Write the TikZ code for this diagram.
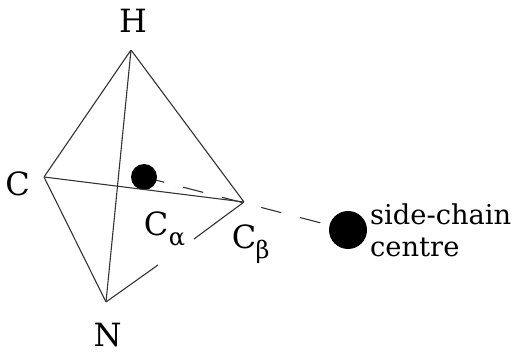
\documentclass[tikz,border=0pt]{standalone}
\usepackage{fontspec}
\setmainfont{DejaVu Serif}
\usetikzlibrary{positioning}
\tikzset{
  vertex/.style={inner sep=0pt,minimum size=0pt},
  atomlabel/.style={inner sep=0pt,font=\fontsize{32}{36}\selectfont},
  sublabel/.style={inner sep=0pt,font=\fontsize{24}{28}\selectfont},
  sclabel/.style={inner sep=0pt,anchor=base west,font=\fontsize{27.3}{31}\selectfont},
  blob/.style={circle,fill=black,inner sep=0pt},
  bond/.style={black!80,line width=1.1pt},
  sidebond/.style={black!80,line width=1.1pt,dash pattern=on 20.7pt off 19.6pt}
}
\begin{document}
\begin{tikzpicture}[x=1pt,y=-1pt]
  \useasboundingbox (0,0) rectangle (513,352);
  % tetrahedron corners
  \node[vertex] (h) at (131,50) {};
  \node[vertex] (c) at (44,177) {};
  \node[vertex] (cb) at (244,202) {};
  \node[vertex] (n) at (106,302) {};
  \node[vertex] (cacentre) at (144,177) {};
  \node[vertex] (sccentre) at (348,230) {};
  \coordinate (gapa) at (158,265);
  \coordinate (gapb) at (194,239);
  \draw[sidebond] (cacentre)--(sccentre);
  % centres
  \node[blob,minimum size=26pt] (ca) at (cacentre) {};
  \node[blob,minimum size=38pt] (sc) at (sccentre) {};
  \draw[bond] (h)--(c);
  \draw[bond] (h)--(cb);
  \draw[bond] (h)--(n);
  \draw[bond] (c)--(n);
  \draw[bond] (c)--(cb);
  \draw[bond] (n)--(gapa);
  \draw[bond] (gapb)--(cb);
  % labels
  \node[atomlabel] (hlabel) at (133,21) {H};
  \node[atomlabel] (clabel) at (17.5,184) {C};
  \node[atomlabel] (nlabel) at (107.5,335) {N};
  \node[atomlabel] (calabel) at (156,224) {C};
  \node[sublabel] (casub) at (177,240) {α};
  \node[atomlabel] (cblabel) at (244,237) {C};
  \node[sublabel] (cbsub) at (262.5,252) {β};
  \node[sclabel] (sctext) at (370,225) {side-chain};
  \node[sclabel] (sctextb) at (370,257) {centre};
\end{tikzpicture}
\end{document}
